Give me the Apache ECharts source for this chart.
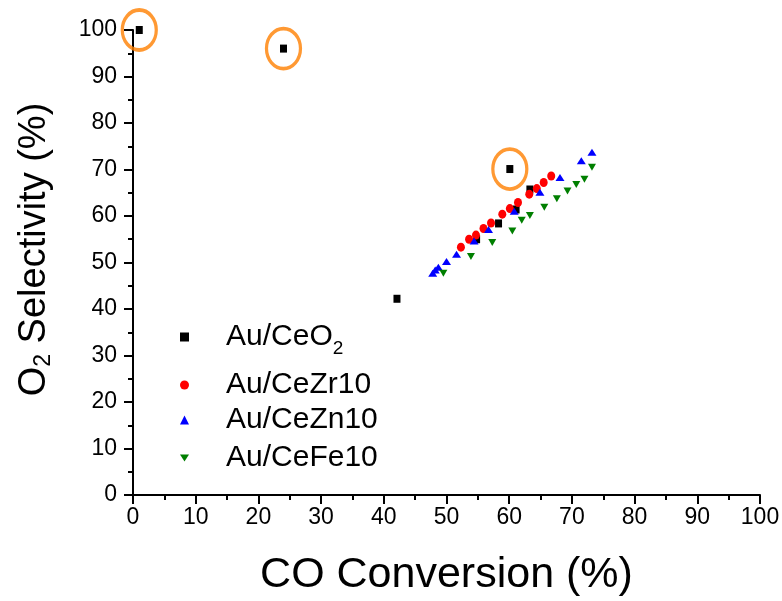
<!DOCTYPE html>
<html><head><meta charset="utf-8">
<script src="https://cdn.jsdelivr.net/npm/echarts@6/dist/echarts.min.js"></script>
<style>html,body{margin:0;padding:0;background:#fff}#c{width:782px;height:601px}</style>
</head><body><div id="c"></div>
<script>
const seriesNames = ['Au/CeO2', 'Au/CeZr10', 'Au/CeZn10', 'Au/CeFe10'];
const ceo2 = [[1,100],[24,96],[42.1,42.2],[60.1,70.1],[63.3,65.7],[61.1,61.4],[58.3,58.4],[54.8,55.0]];
const cezr10 = [[66.7,68.6],[65.5,67.2],[64.4,65.9],[63.2,64.7],[61.4,62.9],[60.1,61.6],[58.9,60.4],[57.1,58.5],[55.9,57.3],[54.7,55.9],[53.6,55.0],[52.3,53.3]];
const cezn10 = [[73.2,73.7],[71.5,71.9],[68.1,68.3],[64.9,65.1],[60.8,61.0],[56.7,57.1],[54.4,54.6],[51.6,51.8],[50.0,50.2],[48.7,49.0],[48.2,48.4],[47.8,47.7]];
const cefe10 = [[73.2,70.5],[72.0,67.9],[70.7,66.8],[69.3,65.4],[67.6,63.7],[65.6,61.9],[63.3,60.1],[62.0,59.1],[60.5,56.8],[57.3,54.3],[53.9,51.3],[49.5,47.7]];
const highlighted = [[1,100],[24,96],[60.1,70.1]];
const xTicks = [0,10,20,30,40,50,60,70,80,90,100];
const yTicks = [0,10,20,30,40,50,60,70,80,90,100];

const font = 'Liberation Sans, Arial, sans-serif';
const chart = echarts.init(document.getElementById('c'));
function axisCommon(){
  return {
    axisLine:{show:true,onZero:false,lineStyle:{color:'#000',width:2}},
    axisTick:{show:true,inside:false,length:9,lineStyle:{color:'#000',width:2}},
    minorTick:{show:true,splitNumber:2,length:5,lineStyle:{color:'#000',width:2}},
    splitLine:{show:false}
  };
}
const legendTops = [317, 365, 400, 438];
const symbols = ['rect','circle','triangle','path://M0,0 L10,0 L5,8 Z'];
const colors = ['#000000','#ff0000','#0000ff','#007f00'];
const sizes = [[7,8],[8,9],[9,7],[8,7]];
const datas = [ceo2, cezr10, cezn10, cefe10];

const option = {
  animation:false,
  backgroundColor:'#fff',
  grid:{left:133,right:22,top:30,bottom:106,containLabel:false,outerBoundsMode:'none'},
  xAxis: Object.assign(axisCommon(), {
    type:'value', min: xTicks[0], max: xTicks[xTicks.length-1], interval: xTicks[1]-xTicks[0],
    name:'CO Conversion (%)', nameLocation:'middle', nameGap:59,
    axisLabel:{color:'#000',fontSize:23,fontFamily:font,margin:11},
    nameTextStyle:{color:'#000',fontSize:43,fontFamily:font}
  }),
  yAxis: Object.assign(axisCommon(), {
    type:'value', min: yTicks[0], max: yTicks[yTicks.length-1], interval: yTicks[1]-yTicks[0],
    name:'{a|O}{s|2}{a| Selectivity (%)}', nameLocation:'middle', nameGap:78,
    axisLabel:{color:'#000',fontSize:23,fontFamily:font,margin:16},
    nameTextStyle:{color:'#000',fontSize:38,fontFamily:font,padding:[0,0,0,26],
      rich:{a:{fontSize:38,fontFamily:font,color:'#000'},s:{fontSize:23,fontFamily:font,color:'#000',verticalAlign:'bottom',padding:[17,0,0,0]}}}
  }),
  legend: seriesNames.map((n,i)=>({
    data:[n], left:175, top:legendTops[i], orient:'vertical',
    itemWidth:9, itemHeight:9, itemGap:10,
    textStyle:{fontSize:30,fontFamily:font,color:'#000',padding:[0,0,0,32],
      rich:{a:{fontSize:30,fontFamily:font,color:'#000'},s:{fontSize:19,fontFamily:font,color:'#000',padding:[24,0,0,0]}}},
    formatter: function(name){ return name==='Au/CeO2' ? '{a|Au/CeO}{s|2}' : name; }
  })),
  series: [
    ...seriesNames.map((n,i)=>({
      name:n, type:'scatter', data:datas[i], symbol:symbols[i], symbolSize:sizes[i],
      itemStyle:{color:colors[i], opacity:1}, z: 3
    })),
    {
      name:'highlight', type:'scatter', data:highlighted, symbol:'circle', symbolSize:[34,40],
      itemStyle:{color:'rgba(0,0,0,0)', borderColor:'#ff8000', borderWidth:3.5}, z:2, silent:true
    }
  ]
};
chart.setOption(option);
</script></body></html>
